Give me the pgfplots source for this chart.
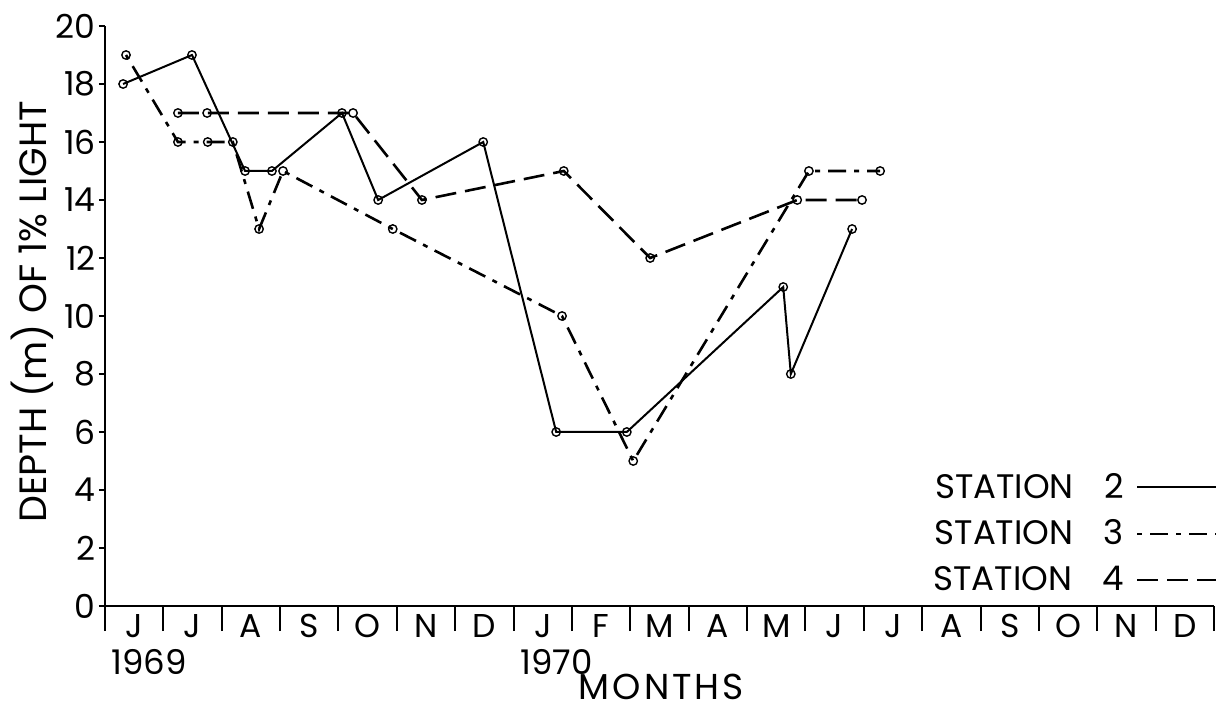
\documentclass[border=0pt]{standalone}
\usepackage{fontspec}
\setmainfont{Poppins}
\usepackage{pgfplots}
\pgfplotsset{compat=1.18}
\begin{document}
\begin{tikzpicture}
\useasboundingbox (-52.5pt,-53.5pt) rectangle (559pt,303pt);
\begin{axis}[
  at={(0,0)}, anchor=south west, scale only axis,
  width=554.5pt, height=290pt,
  xmin=0, xmax=19, ymin=0, ymax=20,
  axis x line*=bottom, axis y line*=left,
  axis line style={line width=1.1pt},
  clip=false,
  tick align=outside,
  major tick length=3pt,
  every tick/.style={black, line width=1pt},
  xtick={0,...,19},
  xticklabels={J,J,A,S,O,N,D,J,F,M,A,M,J,J,A,S,O,N,D,{}},
  xticklabel style={xshift=14.6pt, inner sep=1pt},
  extra x ticks={0,...,19},
  extra x tick labels={},
  extra x tick style={major tick length=12.5pt},
  ytick={0,2,...,20},
  /pgf/number format/assume math mode=true,
  tick label style={font=\fontsize{16.5}{18}\selectfont},
  yticklabel style={inner sep=1.5pt},
  legend plot pos=right,
  legend image code/.code={\draw[#1] (0pt,0pt) -- (39.5pt,0pt);},
  legend style={draw=none, fill=none, at={(1,0)}, anchor=south east,
    xshift=5pt, yshift=3pt,
    font=\fontsize{17}{19}\selectfont, row sep=7.2pt, column sep=5pt,
    nodes={inner sep=1pt}, cells={anchor=east}},
  mark options={solid, fill=white, line width=0.7pt},
  mark size=2.1pt,
]
\addplot[black, line width=1pt, mark=o] coordinates {
 (0.31,18) (1.49,19) (2.40,15) (2.86,15) (4.06,17) (4.68,14) (6.48,16)
 (7.73,6) (8.94,6) (11.62,11) (11.75,8) (12.80,13)};
\addlegendentry{STATION\hspace{0.9em}2}
\addplot[black, line width=1.3pt, dash pattern=on 2.5pt off 4pt on 9pt off 4pt, dash phase=0pt, mark=o] coordinates {
 (0.36,19) (1.25,16) (1.76,16) (2.19,16) (2.64,13) (3.05,15) (4.93,13)
 (7.83,10) (9.05,5) (12.06,15) (13.28,15)};
\addlegendentry{STATION\hspace{0.9em}3}
\addplot[black, line width=1.3pt, dash pattern=on 10.5pt off 4.5pt, mark=o] coordinates {
 (1.25,17) (1.75,17) (4.25,17) (5.43,14) (7.86,15) (9.34,12) (11.86,14) (12.97,14)};
\addlegendentry{STATION\hspace{0.9em}4}
\node[anchor=base west, inner sep=0pt, font=\fontsize{17}{19}\selectfont] at (axis cs:0.10,-2.36) {1969};
\node[anchor=base west, inner sep=0pt, font=\fontsize{17}{19}\selectfont] at (axis cs:7.11,-2.36) {1970};
\node[anchor=base, inner sep=0pt, font=\fontsize{18}{20}\selectfont\addfontfeature{LetterSpace=8}] at (axis cs:9.53,-3.24) {MONTHS};
\node[rotate=90, inner sep=0pt, font=\fontsize{19}{21}\selectfont] at (axis cs:-1.25,10.14) {DEPTH (m) OF 1\% LIGHT};
\end{axis}
\end{tikzpicture}
\end{document}
